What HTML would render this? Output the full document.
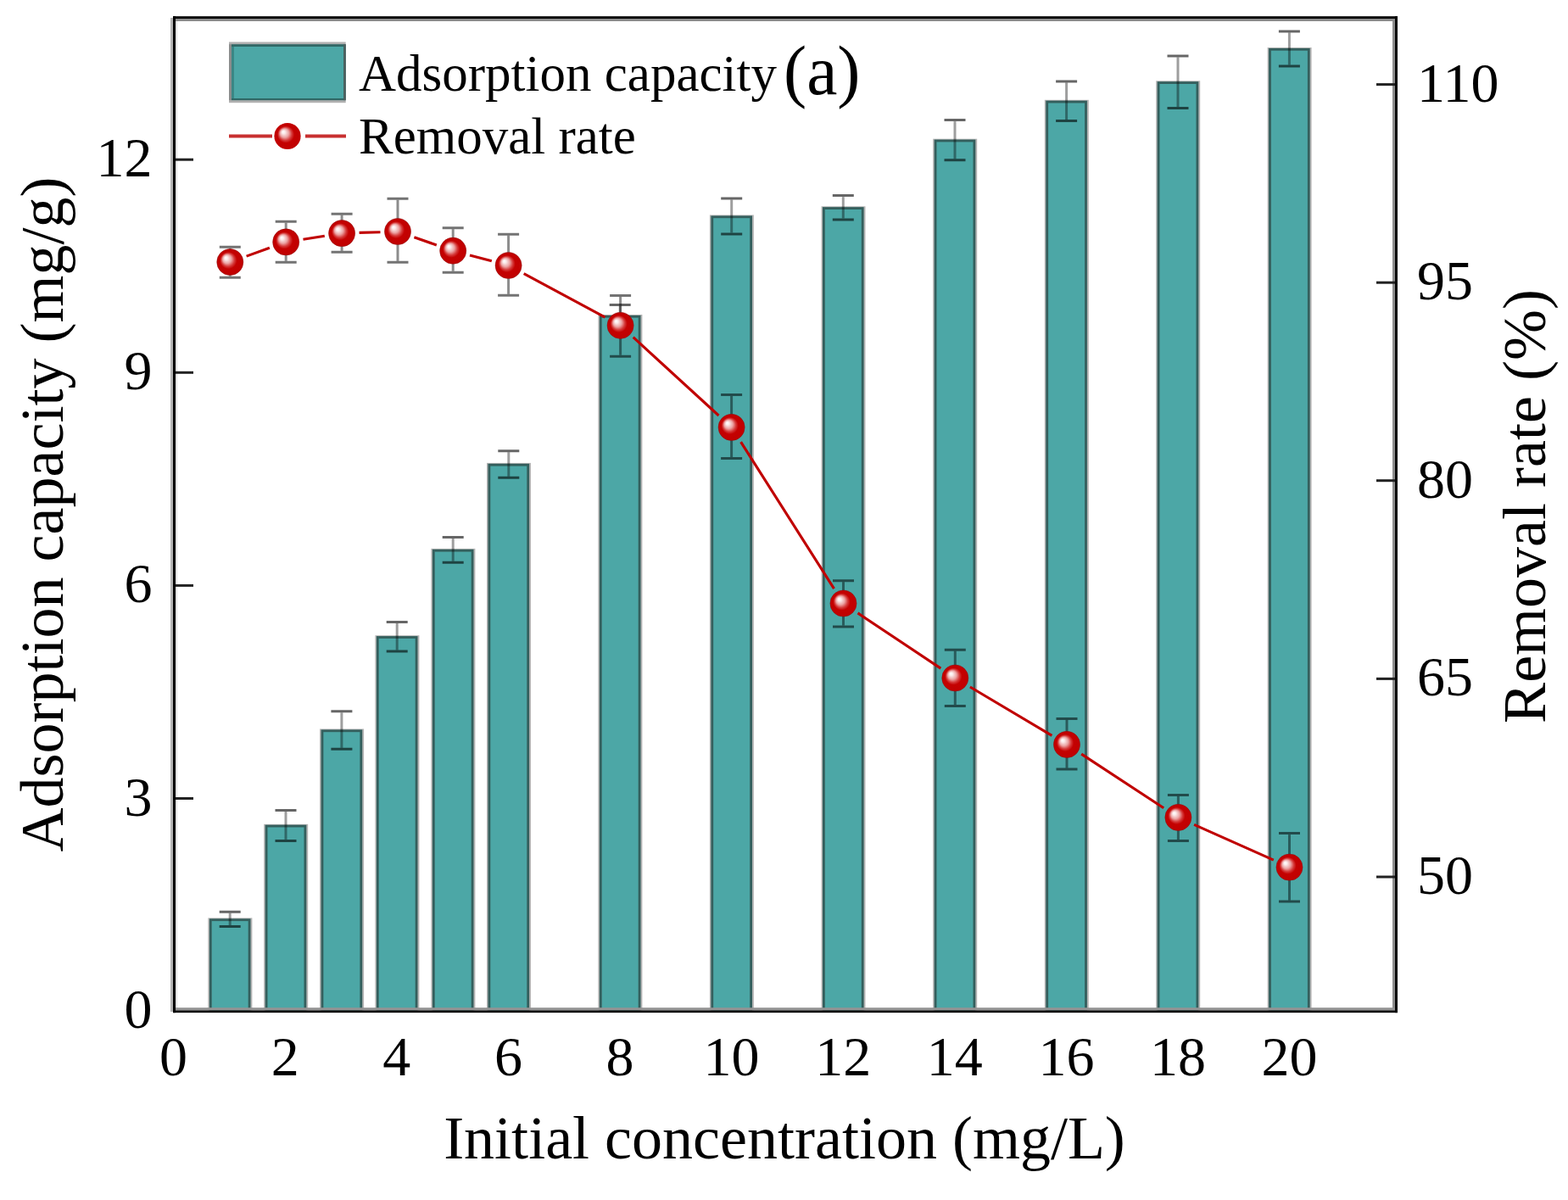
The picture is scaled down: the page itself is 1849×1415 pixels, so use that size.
<!DOCTYPE html>
<html><head><meta charset="utf-8"><style>
html,body{margin:0;padding:0;background:#fff;}
svg{display:block;filter:blur(0.5px);}
text{font-family:"Liberation Serif","Times New Roman",serif;fill:#000;}
</style></head><body>
<svg width="1849" height="1415" viewBox="0 0 1849 1415">
<defs>
<radialGradient id="ball" cx="0.5" cy="0.5" r="0.5" fx="0.33" fy="0.33">
<stop offset="0" stop-color="#ffffff"/>
<stop offset="0.12" stop-color="#fbecec"/>
<stop offset="0.33" stop-color="#eba3a3"/>
<stop offset="0.5" stop-color="#d53a3a"/>
<stop offset="0.64" stop-color="#c40202"/>
<stop offset="1" stop-color="#c00000"/>
</radialGradient>
</defs>
<rect width="1849" height="1415" fill="#fff"/>

<rect x="245.4" y="1082.4" width="52" height="109.0" fill="#b4b4b4"/>
<rect x="246.9" y="1083.3" width="48.6" height="108.1" fill="#345f5d"/>
<rect x="249.7" y="1086.1" width="43" height="105.3" fill="#4ca7a6"/>
<rect x="311.2" y="971.8" width="52" height="219.6" fill="#b4b4b4"/>
<rect x="312.7" y="972.7" width="48.6" height="218.7" fill="#345f5d"/>
<rect x="315.5" y="975.5" width="43" height="215.9" fill="#4ca7a6"/>
<rect x="377.1" y="859.5" width="52" height="331.9" fill="#b4b4b4"/>
<rect x="378.6" y="860.4" width="48.6" height="331.0" fill="#345f5d"/>
<rect x="381.4" y="863.2" width="43" height="328.2" fill="#4ca7a6"/>
<rect x="442.4" y="749.2" width="52" height="442.2" fill="#b4b4b4"/>
<rect x="443.9" y="750.1" width="48.6" height="441.3" fill="#345f5d"/>
<rect x="446.7" y="752.9" width="43" height="438.5" fill="#4ca7a6"/>
<rect x="508.4" y="646.9" width="52" height="544.5" fill="#b4b4b4"/>
<rect x="509.9" y="647.8" width="48.6" height="543.6" fill="#345f5d"/>
<rect x="512.7" y="650.6" width="43" height="540.8" fill="#4ca7a6"/>
<rect x="574.0" y="545.9" width="52" height="645.5" fill="#b4b4b4"/>
<rect x="575.5" y="546.8" width="48.6" height="644.6" fill="#345f5d"/>
<rect x="578.3" y="549.6" width="43" height="641.8" fill="#4ca7a6"/>
<rect x="705.4" y="371.0" width="52" height="820.4" fill="#b4b4b4"/>
<rect x="706.9" y="371.9" width="48.6" height="819.5" fill="#345f5d"/>
<rect x="709.7" y="374.7" width="43" height="816.7" fill="#4ca7a6"/>
<rect x="836.9" y="253.5" width="52" height="937.9" fill="#b4b4b4"/>
<rect x="838.4" y="254.4" width="48.6" height="937.0" fill="#345f5d"/>
<rect x="841.2" y="257.2" width="43" height="934.2" fill="#4ca7a6"/>
<rect x="968.5" y="243.3" width="52" height="948.1" fill="#b4b4b4"/>
<rect x="970.0" y="244.2" width="48.6" height="947.2" fill="#345f5d"/>
<rect x="972.8" y="247.0" width="43" height="944.4" fill="#4ca7a6"/>
<rect x="1100.2" y="163.7" width="52" height="1027.7" fill="#b4b4b4"/>
<rect x="1101.7" y="164.6" width="48.6" height="1026.8" fill="#345f5d"/>
<rect x="1104.5" y="167.4" width="43" height="1024.0" fill="#4ca7a6"/>
<rect x="1231.8" y="117.8" width="52" height="1073.6" fill="#b4b4b4"/>
<rect x="1233.3" y="118.7" width="48.6" height="1072.7" fill="#345f5d"/>
<rect x="1236.1" y="121.5" width="43" height="1069.9" fill="#4ca7a6"/>
<rect x="1363.2" y="95.3" width="52" height="1096.1" fill="#b4b4b4"/>
<rect x="1364.7" y="96.2" width="48.6" height="1095.2" fill="#345f5d"/>
<rect x="1367.5" y="99.0" width="43" height="1092.4" fill="#4ca7a6"/>
<rect x="1494.6" y="56.0" width="52" height="1135.4" fill="#b4b4b4"/>
<rect x="1496.1" y="56.9" width="48.6" height="1134.5" fill="#345f5d"/>
<rect x="1498.9" y="59.7" width="43" height="1131.7" fill="#4ca7a6"/>
<path d="M271.2 1076.7V1091.0" stroke="#000" stroke-opacity="0.38" stroke-width="3" fill="none"/>
<path d="M258.7 1075.2H283.7M258.7 1092.5H283.7" stroke="#000" stroke-opacity="0.6" stroke-width="3" fill="none"/>
<path d="M337.0 957.0V989.9" stroke="#000" stroke-opacity="0.38" stroke-width="3" fill="none"/>
<path d="M324.5 955.5H349.5M324.5 991.4H349.5" stroke="#000" stroke-opacity="0.6" stroke-width="3" fill="none"/>
<path d="M402.9 840.3V881.8" stroke="#000" stroke-opacity="0.38" stroke-width="3" fill="none"/>
<path d="M390.4 838.8H415.4M390.4 883.3H415.4" stroke="#000" stroke-opacity="0.6" stroke-width="3" fill="none"/>
<path d="M468.2 734.9V766.5" stroke="#000" stroke-opacity="0.38" stroke-width="3" fill="none"/>
<path d="M455.7 733.4H480.7M455.7 768.0H480.7" stroke="#000" stroke-opacity="0.6" stroke-width="3" fill="none"/>
<path d="M534.2 635.0V661.7" stroke="#000" stroke-opacity="0.38" stroke-width="3" fill="none"/>
<path d="M521.7 633.5H546.7M521.7 663.2H546.7" stroke="#000" stroke-opacity="0.6" stroke-width="3" fill="none"/>
<path d="M599.8 533.2V561.8" stroke="#000" stroke-opacity="0.38" stroke-width="3" fill="none"/>
<path d="M587.3 531.7H612.3M587.3 563.3H612.3" stroke="#000" stroke-opacity="0.6" stroke-width="3" fill="none"/>
<path d="M731.2 361.0V384.0" stroke="#000" stroke-opacity="0.38" stroke-width="3" fill="none"/>
<path d="M718.7 359.5H743.7M718.7 385.5H743.7" stroke="#000" stroke-opacity="0.6" stroke-width="3" fill="none"/>
<path d="M862.7 235.5V274.4" stroke="#000" stroke-opacity="0.38" stroke-width="3" fill="none"/>
<path d="M850.2 234.0H875.2M850.2 275.9H875.2" stroke="#000" stroke-opacity="0.6" stroke-width="3" fill="none"/>
<path d="M994.3 232.1V257.4" stroke="#000" stroke-opacity="0.38" stroke-width="3" fill="none"/>
<path d="M981.8 230.6H1006.8M981.8 258.9H1006.8" stroke="#000" stroke-opacity="0.6" stroke-width="3" fill="none"/>
<path d="M1126.0 143.1V187.3" stroke="#000" stroke-opacity="0.38" stroke-width="3" fill="none"/>
<path d="M1113.5 141.6H1138.5M1113.5 188.8H1138.5" stroke="#000" stroke-opacity="0.6" stroke-width="3" fill="none"/>
<path d="M1257.6 97.4V141.1" stroke="#000" stroke-opacity="0.38" stroke-width="3" fill="none"/>
<path d="M1245.1 95.9H1270.1M1245.1 142.6H1270.1" stroke="#000" stroke-opacity="0.6" stroke-width="3" fill="none"/>
<path d="M1389.0 67.5V126.0" stroke="#000" stroke-opacity="0.38" stroke-width="3" fill="none"/>
<path d="M1376.5 66.0H1401.5M1376.5 127.5H1401.5" stroke="#000" stroke-opacity="0.6" stroke-width="3" fill="none"/>
<path d="M1520.4 38.4V76.5" stroke="#000" stroke-opacity="0.38" stroke-width="3" fill="none"/>
<path d="M1507.9 36.9H1532.9M1507.9 78.0H1532.9" stroke="#000" stroke-opacity="0.6" stroke-width="3" fill="none"/>
<path d="M271.3 292.8V325.7" stroke="#000" stroke-opacity="0.45" stroke-width="3" fill="none"/>
<path d="M258.8 291.3H283.8M258.8 327.2H283.8" stroke="#000" stroke-opacity="0.55" stroke-width="3" fill="none"/>
<path d="M337.2 262.8V307.8" stroke="#000" stroke-opacity="0.45" stroke-width="3" fill="none"/>
<path d="M324.7 261.3H349.7M324.7 309.3H349.7" stroke="#000" stroke-opacity="0.55" stroke-width="3" fill="none"/>
<path d="M403.1 253.7V295.8" stroke="#000" stroke-opacity="0.45" stroke-width="3" fill="none"/>
<path d="M390.6 252.2H415.6M390.6 297.3H415.6" stroke="#000" stroke-opacity="0.55" stroke-width="3" fill="none"/>
<path d="M469.0 235.8V307.8" stroke="#000" stroke-opacity="0.45" stroke-width="3" fill="none"/>
<path d="M456.5 234.3H481.5M456.5 309.3H481.5" stroke="#000" stroke-opacity="0.55" stroke-width="3" fill="none"/>
<path d="M534.2 270.2V319.7" stroke="#000" stroke-opacity="0.45" stroke-width="3" fill="none"/>
<path d="M521.7 268.7H546.7M521.7 321.2H546.7" stroke="#000" stroke-opacity="0.55" stroke-width="3" fill="none"/>
<path d="M599.6 277.7V346.8" stroke="#000" stroke-opacity="0.45" stroke-width="3" fill="none"/>
<path d="M587.1 276.2H612.1M587.1 348.3H612.1" stroke="#000" stroke-opacity="0.55" stroke-width="3" fill="none"/>
<path d="M731.6 349.9V418.7" stroke="#000" stroke-opacity="0.45" stroke-width="3" fill="none"/>
<path d="M719.1 348.4H744.1M719.1 420.2H744.1" stroke="#000" stroke-opacity="0.55" stroke-width="3" fill="none"/>
<path d="M862.6 467.0V539.0" stroke="#000" stroke-opacity="0.45" stroke-width="3" fill="none"/>
<path d="M850.1 465.5H875.1M850.1 540.5H875.1" stroke="#000" stroke-opacity="0.55" stroke-width="3" fill="none"/>
<path d="M994.5 686.2V737.5" stroke="#000" stroke-opacity="0.45" stroke-width="3" fill="none"/>
<path d="M982.0 684.7H1007.0M982.0 739.0H1007.0" stroke="#000" stroke-opacity="0.55" stroke-width="3" fill="none"/>
<path d="M1126.3 767.7V831.0" stroke="#000" stroke-opacity="0.45" stroke-width="3" fill="none"/>
<path d="M1113.8 766.2H1138.8M1113.8 832.5H1138.8" stroke="#000" stroke-opacity="0.55" stroke-width="3" fill="none"/>
<path d="M1258.0 848.9V905.6" stroke="#000" stroke-opacity="0.45" stroke-width="3" fill="none"/>
<path d="M1245.5 847.4H1270.5M1245.5 907.1H1270.5" stroke="#000" stroke-opacity="0.55" stroke-width="3" fill="none"/>
<path d="M1389.4 938.9V990.0" stroke="#000" stroke-opacity="0.45" stroke-width="3" fill="none"/>
<path d="M1376.9 937.4H1401.9M1376.9 991.5H1401.9" stroke="#000" stroke-opacity="0.55" stroke-width="3" fill="none"/>
<path d="M1520.5 984.1V1061.6" stroke="#000" stroke-opacity="0.45" stroke-width="3" fill="none"/>
<path d="M1508.0 982.6H1533.0M1508.0 1063.1H1533.0" stroke="#000" stroke-opacity="0.55" stroke-width="3" fill="none"/>
<path d="M290.6 302.1L317.9 292.3M357.5 282.2L382.8 278.3M423.6 274.4L448.5 273.7M488.4 279.7L514.8 289.0M554.0 300.9L579.8 307.8M617.7 322.7L713.5 374.1M746.7 397.7L847.5 490.0M873.6 521.2L983.5 694.2M1011.5 722.9L1109.3 788.1M1143.9 810.0L1240.4 867.4M1275.2 889.1L1372.2 952.7M1408.1 972.3L1501.8 1014.2" stroke="#c00000" stroke-width="3.1" fill="none"/>
<circle cx="271.3" cy="309.0" r="15.6" fill="url(#ball)" stroke="#8a1010" stroke-opacity="0.45" stroke-width="1"/>
<circle cx="337.2" cy="285.4" r="15.6" fill="url(#ball)" stroke="#8a1010" stroke-opacity="0.45" stroke-width="1"/>
<circle cx="403.1" cy="275.1" r="15.6" fill="url(#ball)" stroke="#8a1010" stroke-opacity="0.45" stroke-width="1"/>
<circle cx="469.0" cy="273.0" r="15.6" fill="url(#ball)" stroke="#8a1010" stroke-opacity="0.45" stroke-width="1"/>
<circle cx="534.2" cy="295.7" r="15.6" fill="url(#ball)" stroke="#8a1010" stroke-opacity="0.45" stroke-width="1"/>
<circle cx="599.6" cy="313.0" r="15.6" fill="url(#ball)" stroke="#8a1010" stroke-opacity="0.45" stroke-width="1"/>
<circle cx="731.6" cy="383.8" r="15.6" fill="url(#ball)" stroke="#8a1010" stroke-opacity="0.45" stroke-width="1"/>
<circle cx="862.6" cy="503.9" r="15.6" fill="url(#ball)" stroke="#8a1010" stroke-opacity="0.45" stroke-width="1"/>
<circle cx="994.5" cy="711.5" r="15.6" fill="url(#ball)" stroke="#8a1010" stroke-opacity="0.45" stroke-width="1"/>
<circle cx="1126.3" cy="799.5" r="15.6" fill="url(#ball)" stroke="#8a1010" stroke-opacity="0.45" stroke-width="1"/>
<circle cx="1258.0" cy="877.9" r="15.6" fill="url(#ball)" stroke="#8a1010" stroke-opacity="0.45" stroke-width="1"/>
<circle cx="1389.4" cy="963.9" r="15.6" fill="url(#ball)" stroke="#8a1010" stroke-opacity="0.45" stroke-width="1"/>
<circle cx="1520.5" cy="1022.6" r="15.6" fill="url(#ball)" stroke="#8a1010" stroke-opacity="0.45" stroke-width="1"/>
<rect x="201" y="21" width="3" height="1172" fill="#b4b4b4"/>
<rect x="207" y="22" width="2" height="1168" fill="#e0e0e0"/>
<rect x="204" y="22" width="1441" height="3" fill="#8c8c8c"/>
<rect x="1642" y="22" width="3" height="1169" fill="#8c8c8c"/>
<rect x="207" y="1188.2" width="1438" height="3.2" fill="#939393"/>
<rect x="204" y="19.2" width="1444" height="2.8" fill="#000"/>
<rect x="204" y="19.2" width="3" height="1175" fill="#000"/>
<rect x="1645" y="19.2" width="3" height="1175" fill="#000"/>
<rect x="204" y="1191.4" width="1444" height="2.7" fill="#000"/>
<rect x="207" y="940.0" width="21" height="3" fill="#222"/>
<rect x="207" y="688.9" width="21" height="3" fill="#222"/>
<rect x="207" y="437.8" width="21" height="3" fill="#222"/>
<rect x="207" y="186.7" width="21" height="3" fill="#222"/>
<rect x="1623" y="98.1" width="22" height="3" fill="#222"/>
<rect x="1623" y="331.7" width="22" height="3" fill="#222"/>
<rect x="1623" y="565.2" width="22" height="3" fill="#222"/>
<rect x="1623" y="798.9" width="22" height="3" fill="#222"/>
<rect x="1623" y="1032.5" width="22" height="3" fill="#222"/>
<text x="179.5" y="1212.0" font-size="66" text-anchor="end">0</text>
<text x="179.5" y="961.5" font-size="66" text-anchor="end">3</text>
<text x="179.5" y="710.4" font-size="66" text-anchor="end">6</text>
<text x="179.5" y="459.3" font-size="66" text-anchor="end">9</text>
<text x="179.5" y="208.2" font-size="66" text-anchor="end">12</text>
<text x="204.6" y="1268" font-size="66" text-anchor="middle">0</text>
<text x="336.2" y="1268" font-size="66" text-anchor="middle">2</text>
<text x="467.8" y="1268" font-size="66" text-anchor="middle">4</text>
<text x="599.4" y="1268" font-size="66" text-anchor="middle">6</text>
<text x="731.0" y="1268" font-size="66" text-anchor="middle">8</text>
<text x="862.6" y="1268" font-size="66" text-anchor="middle">10</text>
<text x="994.2" y="1268" font-size="66" text-anchor="middle">12</text>
<text x="1125.8" y="1268" font-size="66" text-anchor="middle">14</text>
<text x="1257.4" y="1268" font-size="66" text-anchor="middle">16</text>
<text x="1389.0" y="1268" font-size="66" text-anchor="middle">18</text>
<text x="1520.6" y="1268" font-size="66" text-anchor="middle">20</text>
<text x="1671" y="119.6" font-size="66">110</text>
<text x="1671" y="353.2" font-size="66">95</text>
<text x="1671" y="586.7" font-size="66">80</text>
<text x="1671" y="820.4" font-size="66">65</text>
<text x="1671" y="1054.0" font-size="66">50</text>
<text x="925" y="1366" font-size="72" text-anchor="middle">Initial concentration (mg/L)</text>
<text transform="translate(74,606.5) rotate(-90)" font-size="72" text-anchor="middle">Adsorption capacity (mg/g)</text>
<text transform="translate(1821.5,597) rotate(-90)" font-size="72" text-anchor="middle">Removal rate (%)</text>
<rect x="270" y="49.5" width="137.7" height="71.7" fill="#b0b0b0"/>
<rect x="270" y="52.2" width="3" height="66" fill="#8c8c8c"/>
<rect x="273" y="52.2" width="134.7" height="66" fill="#306866"/>
<rect x="273" y="55" width="3" height="61" fill="#3a8785"/>
<rect x="276" y="55" width="129.2" height="61" fill="#4ca7a6"/>
<rect x="405.2" y="52.2" width="2.5" height="66" fill="#4f5f5e"/>
<path d="M270 160.5H321M360 160.5H408" stroke="#c83030" stroke-width="4" fill="none"/>
<circle cx="339" cy="160.5" r="15.6" fill="url(#ball)"/>
<text x="423" y="107" font-size="61">Adsorption capacity</text>
<text x="924" y="111" font-size="81.5">(a)</text>
<text x="423" y="180.5" font-size="61">Removal rate</text>
</svg></body></html>
